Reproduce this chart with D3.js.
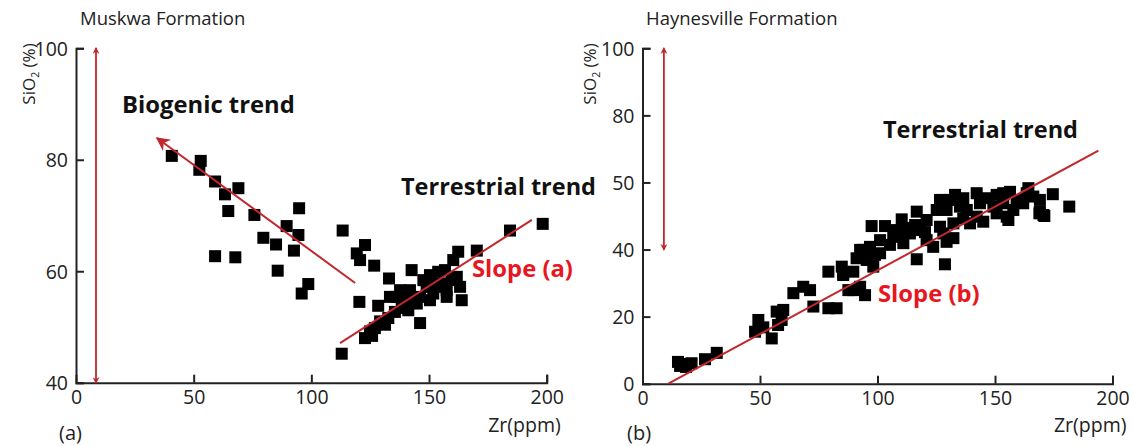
<!DOCTYPE html>
<html>
<head>
<meta charset="utf-8">
<script src="https://cdn.jsdelivr.net/npm/d3@7"></script>
<style>
  html, body { margin: 0; padding: 0; background: #fff; }
  svg { display: block; font-family: "Open Sans", "Noto Sans", sans-serif; }
</style>
</head>
<body>
<svg id="chart" width="1133" height="446"></svg>
<script>
// ---------------- DATA ----------------
// Panel (a) Muskwa Formation: [Zr ppm, SiO2 %]
const muskwaBiogenic = [
  [40.7,80.7],[53.0,79.8],[52.4,78.2],[59.1,76.1],[63.3,73.8],[69.0,74.9],[64.7,70.8],
  [75.8,70.1],[94.8,71.3],[89.5,68.1],[94.5,66.5],[79.6,66.0],[85.0,64.8],[92.6,63.7],
  [59.1,62.7],[67.7,62.5],[85.7,60.1],[98.7,57.7],[95.9,56.0]
];
const muskwaTerrestrial = [
  [113.3,67.3],[122.8,64.7],[119.3,63.2],[120.7,62.0],[126.7,61.0],[133.0,58.7],[120.4,54.5],
  [128.4,53.8],[112.9,45.2],[124.9,49.2],[127.0,49.8],[129.2,51.0],[132.7,51.6],[133.4,55.4],
  [136.3,55.4],[138.4,53.4],[142.6,60.2],[141.9,56.6],[146.2,50.7],[141.2,53.0],[144.8,54.2],
  [146.2,55.4],[147.6,58.4],[149.0,57.2],[151.8,56.0],[153.9,59.9],[154.7,57.8],[157.5,56.6],
  [159.6,58.4],[157.5,55.4],[160.3,62.0],[162.4,63.5],[161.8,59.0],[163.2,57.2],[163.9,54.8],
  [170.3,63.7],[184.4,67.3],[198.3,68.5],[150.4,54.8],[153.2,57.2],[143.3,54.8],[135.5,52.7],
  [137.7,56.6],[139.8,54.8],[131.3,50.4],[122.8,48.0],[125.8,48.4],[150.4,59.3],[156.8,60.2]
];
// Panel (b) Haynesville Formation: [Zr ppm, SiO2 % on the axis position scale]
const haynesvillePoints = [
  [16.0,5.3],[17.4,5.9],[20.9,6.1],[15.1,6.5],[18.5,5.0],[26.6,7.3],[31.6,9.2],
  [47.9,15.5],[49.3,19.0],[51.4,16.8],[55.0,13.5],[57.1,21.5],[59.2,19.0],[59.9,22.0],[57.7,17.5],
  [64.2,27.0],[68.4,28.9],[71.3,27.9],[72.7,23.0],[79.1,22.5],[82.6,22.5],[79.1,33.4],[84.8,34.9],
  [85.4,32.4],[87.6,27.9],[89.7,33.4],[92.6,28.9],[94.7,26.4],[91.1,37.4],[92.6,39.9],[96.8,36.9],
  [98.2,34.9],[98.9,38.4],[97.5,47.0],[103.2,47.0],[110.3,49.0],[116.7,51.3],[116.7,37.1],
  [128.7,35.6],[126.6,54.8],[133.0,56.3],[142.2,56.8],[150.7,56.3],[156.4,57.2],[164.2,58.3],
  [166.3,55.8],[174.6,56.5],[181.6,52.8],[169.1,51.3],[170.6,50.3],[155.7,48.8],[145.0,48.3],
  [139.4,47.8],[132.3,43.4],[129.4,42.3],[123.7,40.8],[111.0,41.9],[106.7,43.8],[101.1,42.8],
  [96.8,40.8],[94.0,39.9],[95.4,36.9],[101.1,38.9],[120.9,48.8],[125.2,51.8],[129.4,51.8],
  [135.1,52.8],[138.0,51.8],[143.6,53.8],[149.3,52.8],[153.5,53.8],[159.2,54.8],[162.0,53.8],
  [163.5,56.8],[118.1,45.8],[126.6,46.8],[132.3,47.8],[136.5,49.3],[113.8,44.8],[120.9,42.8],
  [128.0,44.8],[150.7,50.8],[155.0,49.8],[157.8,51.8],[142.2,49.8],[130.9,54.8],[136.5,55.3],
  [146.5,55.3],[153.5,56.8],[168.9,50.8],[171.0,50.0],[85.4,32.9],[89.7,27.9],[105.3,41.4],
  [109.6,44.3],[111.7,46.4],[107.4,45.8],[116.0,47.3],[120.2,45.2],[169.1,54.8]
];
// Trend lines / arrows
const muskwaBiogenicTrend   = [[118.6,57.9],[34.4,83.9]];
const muskwaTerrestrialTrend = [[112.2,47.1],[193.7,69.2]];
const muskwaRangeArrow      = [[8.5,40],[8.5,100]];
const haynesvilleTrend      = [[11.0,0],[194.0,69.5]];
const haynesvilleRangeArrow = [[9.1,40],[9.1,100]];
// Axes
const xTicks = [0,50,100,150,200];
const muskwaYTicks = [40,60,80,100];
const haynesvilleYTicks = [0,20,40,60,80,100];
const haynesvilleYTickLabels = ["0","20","40","50","80","100"];

// ---------------- DRAW ----------------
const svg = d3.select("#chart");
const axisColor = "#222";
const lineRed = "#c1272d";
const textRed = "#e8161f";

const defs = svg.append("defs");
defs.append("marker").attr("id","bigHead2").attr("viewBox","0 0 10 10")
  .attr("refX",9).attr("refY",5).attr("markerWidth",16).attr("markerHeight",14)
  .attr("markerUnits","userSpaceOnUse").attr("orient","auto")
  .append("path").attr("d","M0,0 L10,5 L0,10 L3,5 Z").attr("fill",lineRed);
defs.append("marker").attr("id","smallHead").attr("viewBox","0 0 10 10")
  .attr("refX",8).attr("refY",5).attr("markerWidth",7).attr("markerHeight",7)
  .attr("markerUnits","userSpaceOnUse").attr("orient","auto-start-reverse")
  .append("path").attr("d","M0,0 L10,5 L0,10 L3,5 Z").attr("fill",lineRed);

function panel(cfg) {
  const g = svg.append("g");
  const x = d3.scaleLinear().domain([0,200]).range(cfg.xRange);
  const y = d3.scaleLinear().domain(cfg.yDomain).range(cfg.yRange);

  const xAxis = d3.axisBottom(x).tickValues(xTicks).tickSizeInner(-8).tickSizeOuter(-8).tickPadding(7);
  const yAxis = d3.axisLeft(y).tickValues(cfg.yTicks).tickSizeInner(-8).tickSizeOuter(-8).tickPadding(8);
  if (cfg.yLabels) yAxis.tickFormat((d,i) => cfg.yLabels[i]);

  const gx = g.append("g").attr("transform",`translate(0,${cfg.yRange[0]})`).call(xAxis);
  const gy = g.append("g").attr("transform",`translate(${cfg.xRange[0]},0)`).call(yAxis);
  [gx,gy].forEach(a => {
    a.selectAll("path.domain").attr("stroke",axisColor).attr("stroke-width",2);
    a.selectAll(".tick line").attr("stroke",axisColor).attr("stroke-width",2);
    a.selectAll(".tick text").attr("fill",axisColor).attr("font-size",19.5)
      .attr("font-family","'Open Sans', sans-serif");
  });
  gx.selectAll(".tick").filter(d => d === 0).select("line").remove();
  gy.selectAll(".tick text").attr("dy","0.36em");

  // range arrow
  g.append("line")
    .attr("x1",x(cfg.range[0][0])).attr("y1",y(cfg.range[0][1]))
    .attr("x2",x(cfg.range[1][0])).attr("y2",y(cfg.range[1][1]))
    .attr("stroke",lineRed).attr("stroke-width",1.8)
    .attr("marker-start","url(#smallHead)").attr("marker-end","url(#smallHead)");

  // points
  const s = 12;
  g.append("g").selectAll("rect").data(cfg.points).join("rect")
    .attr("x",d => x(d[0]) - s/2).attr("y",d => y(d[1]) - s/2)
    .attr("width",s).attr("height",s).attr("fill","#000");

  // trend lines
  cfg.trends.forEach(t => {
    g.append("line")
      .attr("x1",x(t.pts[0][0])).attr("y1",y(t.pts[0][1]))
      .attr("x2",x(t.pts[1][0])).attr("y2",y(t.pts[1][1]))
      .attr("stroke",lineRed).attr("stroke-width",2)
      .attr("marker-end", t.arrow ? "url(#bigHead2)" : null);
  });

  // texts
  g.append("text").attr("x",cfg.title[1]).attr("y",25).attr("font-size",18.5)
    .attr("fill","#222").text(cfg.title[0]);
  const yl = g.append("text")
    .attr("transform",`translate(${cfg.yLabelX},74) rotate(-90)`)
    .attr("text-anchor","middle").attr("font-size",17).attr("fill","#222");
  yl.append("tspan").text("SiO");
  yl.append("tspan").attr("font-size",10.5).attr("dy",4).text("2");
  yl.append("tspan").attr("dy",-4).text(" (%)");
  g.append("text").attr("x",cfg.xRange[1] + 14).attr("y",432).attr("text-anchor","end")
    .attr("font-size",19.5).attr("fill","#222").text("Zr(ppm)");
  g.append("text").attr("x",cfg.panelLabelX).attr("y",440)
    .attr("font-size",20).attr("fill","#222").text(cfg.panelLabel);
  cfg.labels.forEach(l => {
    g.append("text").attr("x",l.x).attr("y",l.y).attr("font-size",l.size)
      .attr("font-weight","bold").attr("fill",l.color).text(l.text);
  });
}

panel({
  xRange:[76,546.7], yDomain:[40,100], yRange:[382.7,48.3], yTicks:muskwaYTicks,
  points: muskwaBiogenic.concat(muskwaTerrestrial),
  range: muskwaRangeArrow,
  trends:[{pts:muskwaBiogenicTrend, arrow:true},{pts:muskwaTerrestrialTrend}],
  title:["Muskwa Formation",80], yLabelX:35, panelLabel:"(a)", panelLabelX:59,
  labels:[
    {text:"Biogenic trend", x:122, y:113, size:23.8, color:"#111"},
    {text:"Terrestrial trend", x:401, y:195, size:23.5, color:"#111"},
    {text:"Slope (a)", x:472, y:277, size:23.8, color:textRed}
  ]
});

panel({
  xRange:[642.5,1112.5], yDomain:[0,100], yRange:[383.7,48.3], yTicks:haynesvilleYTicks,
  yLabels: haynesvilleYTickLabels,
  points: haynesvillePoints,
  range: haynesvilleRangeArrow,
  trends:[{pts:haynesvilleTrend}],
  title:["Haynesville Formation",646], yLabelX:596, panelLabel:"(b)", panelLabelX:627,
  labels:[
    {text:"Terrestrial trend", x:883, y:138, size:23.5, color:"#111"},
    {text:"Slope (b)", x:878, y:302, size:23.8, color:textRed}
  ]
});
</script>
</body>
</html>
